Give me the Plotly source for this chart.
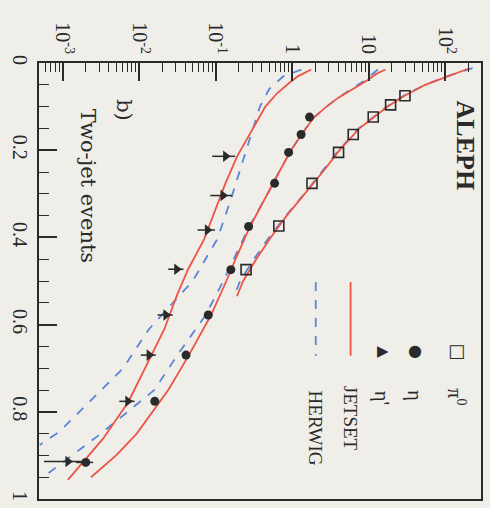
import plotly.graph_objects as go

# ---------------- data ----------------
# horizontal (log) axis = 1/N dN/dx ; vertical axis = x  (figure is shown rotated)
pi0_x = [0.075, 0.096, 0.124, 0.164, 0.205, 0.276, 0.374, 0.474]
pi0_y = [29.9, 19.4, 11.5, 6.3, 4.05, 1.82, 0.67, 0.25]

eta_x = [0.124, 0.164, 0.205, 0.276, 0.375, 0.474, 0.578, 0.670, 0.776, 0.916]
eta_y = [1.69, 1.31, 0.90, 0.59, 0.27, 0.158, 0.080, 0.041, 0.016, 0.0020]
eta_err = [0.05, 0.04, 0.03, 0.02, 0.01, 0.006, 0.004, 0.002, 0.0012, 0.0005]

etap_x = [0.214, 0.304, 0.383, 0.473, 0.578, 0.670, 0.776, 0.914]
etap_y = [0.135, 0.125, 0.078, 0.031, 0.0224, 0.0135, 0.0071, 0.00117]
etap_err = [0.045, 0.04, 0.02, 0.007, 0.005, 0.003, 0.0016, 0.0006]

pi0_jet_x = [0.012, 0.02, 0.03, 0.05, 0.075, 0.1, 0.15, 0.2, 0.25, 0.3, 0.35, 0.4, 0.45, 0.5, 0.535]
pi0_jet_y = [209, 158, 105, 55, 29.5, 17.8, 7.6, 4.17, 2.51, 1.45, 0.85, 0.525, 0.339, 0.229, 0.19]
pi0_her_x = [0.012, 0.02, 0.03, 0.05, 0.075, 0.1, 0.15, 0.2, 0.25, 0.3, 0.35, 0.4, 0.45, 0.5, 0.535]
pi0_her_y = [229, 166, 107, 55, 28.8, 17.4, 7.4, 4.07, 2.45, 1.45, 0.83, 0.50, 0.316, 0.209, 0.174]

eta_jet_x = [0.015, 0.025, 0.04, 0.06, 0.08, 0.1, 0.124, 0.164, 0.205, 0.25, 0.3, 0.375,
             0.45, 0.5, 0.578, 0.67, 0.75, 0.8, 0.85, 0.9, 0.95]
eta_jet_y = [16.6, 12.6, 9.55, 6.03, 3.98, 2.82, 1.95, 1.32, 0.933, 0.676, 0.479, 0.282,
             0.182, 0.138, 0.0871, 0.0447, 0.024, 0.0151, 0.0093, 0.0050, 0.00234]
eta_her_x = [0.015, 0.025, 0.04, 0.06, 0.08, 0.1, 0.124, 0.164, 0.205, 0.25, 0.3, 0.375,
             0.45, 0.5, 0.578, 0.67, 0.75, 0.8, 0.85, 0.9, 0.945]
eta_her_y = [13.2, 11.2, 8.91, 5.89, 3.98, 2.82, 1.95, 1.32, 0.933, 0.676, 0.479, 0.275,
             0.170, 0.126, 0.0741, 0.0316, 0.0158, 0.00708, 0.00316, 0.00132, 0.000603]

etap_jet_x = [0.015, 0.03, 0.046, 0.07, 0.1, 0.16, 0.214, 0.275, 0.35, 0.404, 0.473,
              0.53, 0.61, 0.7, 0.777, 0.861, 0.956]
etap_jet_y = [1.78, 1.20, 0.912, 0.631, 0.447, 0.282, 0.191, 0.135, 0.0933, 0.0708, 0.0437,
              0.0316, 0.0214, 0.0120, 0.00724, 0.00339, 0.00117]
etap_her_x = [0.015, 0.031, 0.06, 0.1, 0.2, 0.313, 0.404, 0.5, 0.61, 0.7, 0.777, 0.845, 0.876]
etap_her_y = [1.32, 0.759, 0.501, 0.380, 0.251, 0.158, 0.105, 0.0501, 0.0135, 0.00617,
              0.00224, 0.000912, 0.000501]

log_tickvals = [0.001, 0.01, 0.1, 1, 10, 100]
log_ticktext = ["10<sup>-3</sup>", "10<sup>-2</sup>", "10<sup>-1</sup>", "1", "10", "10<sup>2</sup>"]
x_tickvals = [0, 0.2, 0.4, 0.6, 0.8, 1]
x_ticktext = ["0", "0.2", "0.4", "0.6", "0.8", "1"]

# ---------------- styles ----------------
BG = "#efeee9"
INK = "#2a2a2a"
RED = "#ec5546"
BLUE = "#5a85d8"
SERIF = "Liberation Serif, Times New Roman, serif"
WIDE_SERIF = "DejaVu Serif, serif"

fig = go.Figure()

def curve(xs, ys, color, dash):
    fig.add_trace(go.Scatter(x=ys, y=xs, mode="lines",
                             line=dict(color=color, width=1.8, dash=dash),
                             showlegend=False, hoverinfo="skip"))

curve(pi0_her_x, pi0_her_y, BLUE, "dash")
curve(eta_her_x, eta_her_y, BLUE, "dash")
curve(etap_her_x, etap_her_y, BLUE, "dash")
curve(pi0_jet_x, pi0_jet_y, RED, "solid")
curve(eta_jet_x, eta_jet_y, RED, "solid")
curve(etap_jet_x, etap_jet_y, RED, "solid")

fig.add_trace(go.Scatter(x=pi0_y, y=pi0_x, mode="markers",
                         marker=dict(symbol="square-open", size=10, color=INK,
                                     line=dict(width=1.6, color=INK)),
                         showlegend=False))
fig.add_trace(go.Scatter(x=eta_y, y=eta_x, mode="markers",
                         error_x=dict(type="data", array=eta_err, color=INK, thickness=1.5, width=0),
                         marker=dict(symbol="circle", size=9, color=INK),
                         showlegend=False))
fig.add_trace(go.Scatter(x=etap_y, y=etap_x, mode="markers",
                         error_x=dict(type="data", array=etap_err, color=INK, thickness=1.5, width=0),
                         marker=dict(symbol="triangle-right", size=10, color=INK),
                         showlegend=False))

tickfont = dict(family=SERIF, size=20, color=INK)

fig.update_layout(
    width=490, height=508,
    margin=dict(l=39, r=7, t=63, b=7),
    paper_bgcolor=BG, plot_bgcolor=BG,
    showlegend=False,
    xaxis=dict(type="log", range=[-3.31, 2.47], side="top",
               tickvals=log_tickvals, ticktext=log_ticktext, tickangle=90,
               ticks="inside", ticklen=18, tickwidth=1.5, tickcolor=INK,
               minor=dict(ticks="inside", ticklen=9, tickwidth=1.2, tickcolor=INK,
                          tickvals=[v * m for v in [0.0001, 0.001, 0.01, 0.1, 1, 10, 100]
                                    for m in range(2, 10)]),
               showline=True, linecolor=INK, linewidth=2, mirror=True,
               showgrid=False, zeroline=False, tickfont=tickfont),
    yaxis=dict(range=[1, 0], side="left",
               tickvals=x_tickvals, ticktext=x_ticktext, tickangle=90,
               ticks="inside", ticklen=18, tickwidth=1.5, tickcolor=INK,
               minor=dict(ticks="inside", ticklen=10, tickwidth=1.2, tickcolor=INK, dtick=0.05),
               showline=True, linecolor=INK, linewidth=2, mirror=True,
               showgrid=False, zeroline=False, tickfont=tickfont),
)

def px2paper(px, py):
    return (px - 39) / 444, (501 - py) / 438

def label(text, px, py, size, bold=False, family=SERIF):
    x, y = px2paper(px, py)
    fig.add_annotation(text=("<b>%s</b>" % text) if bold else text, x=x, y=y,
                       xref="paper", yref="paper", xanchor="center", yanchor="middle",
                       showarrow=False, textangle=90,
                       font=dict(family=family, size=size, color=INK))

label("ALEPH", 467, 146, 26, bold=True)
label("b)", 125, 110, 21, family=WIDE_SERIF)
label("Two-jet events", 88, 187, 21, family=WIDE_SERIF)

# legend (rotated)
label("π<sup>0</sup>", 458, 398, 20)
label("η", 416, 397, 20)
label("η'", 383, 400, 20)
label("JETSET", 352, 420, 19)
label("HERWIG", 317, 430, 19)

for sym, px, size in [("□", 458, 18), ("●", 417, 16), ("▶", 385, 15)]:
    x, y = px2paper(px, 352)
    fig.add_annotation(text=sym, x=x, y=y, xref="paper", yref="paper",
                       xanchor="center", yanchor="middle", showarrow=False,
                       font=dict(family="DejaVu Sans", size=size, color=INK))

for px, color, dash in [(352, RED, "solid"), (317, BLUE, "dash")]:
    x, y0 = px2paper(px, 283)
    _, y1 = px2paper(px, 357)
    fig.add_shape(type="line", xref="paper", yref="paper", x0=x, x1=x, y0=y0, y1=y1,
                  line=dict(color=color, width=1.8, dash=dash))

fig.write_html("out.html")
